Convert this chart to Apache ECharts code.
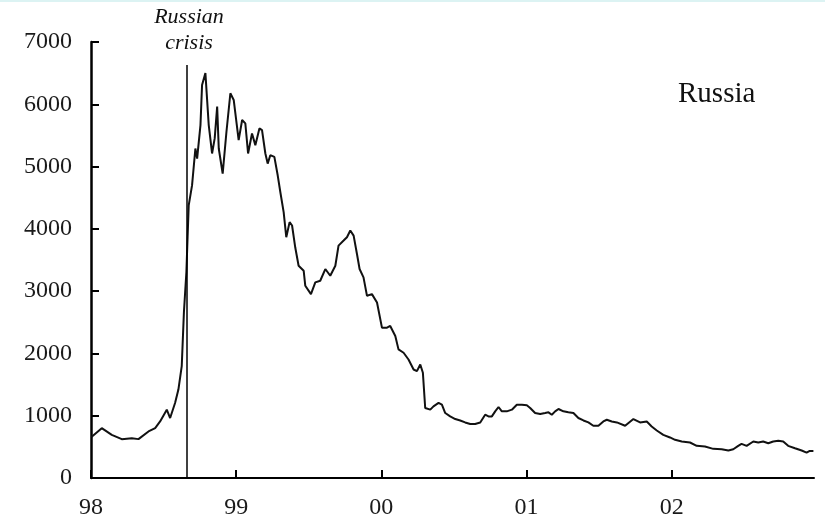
<!DOCTYPE html>
<html><head><meta charset="utf-8">
<script src="https://cdn.jsdelivr.net/npm/echarts@6/dist/echarts.min.js"></script>
<style>html,body{margin:0;padding:0;background:#fff}#c{width:825px;height:530px}</style>
</head><body><div id="c"></div>
<script>
// time in decimal years
const times = [1998.003,1998.074,1998.143,1998.212,1998.281,1998.327,1998.396,1998.442,1998.476,1998.522,1998.545,1998.579,1998.602,1998.625,1998.640,1998.657,
1998.673,1998.696,1998.719,1998.731,1998.754,1998.765,1998.788,1998.811,1998.834,1998.852,1998.869,1998.880,1998.907,1998.933,1998.960,1998.983,
1999.017,1999.041,1999.063,1999.082,1999.109,1999.132,1999.160,1999.178,1999.201,1999.217,1999.235,1999.263,1999.286,1999.304,1999.327,1999.345,
1999.368,1999.385,1999.407,1999.430,1999.465,1999.476,1999.515,1999.545,1999.579,1999.614,1999.648,1999.683,1999.705,1999.740,1999.763,1999.786,
1999.809,1999.832,1999.850,1999.877,1999.901,1999.935,1999.970,2000.004,2000.039,2000.061,2000.096,2000.118,2000.153,2000.187,2000.222,2000.245,
2000.268,2000.286,2000.302,2000.337,2000.359,2000.394,2000.417,2000.440,2000.474,2000.509,2000.543,2000.577,2000.612,2000.646,2000.681,2000.715,
2000.738,2000.761,2000.784,2000.807,2000.830,2000.864,2000.899,2000.933,2000.968,2001.002,2001.025,2001.059,2001.094,2001.128,2001.151,2001.174,
2001.197,2001.220,2001.254,2001.288,2001.323,2001.357,2001.392,2001.426,2001.460,2001.495,2001.529,2001.553,2001.587,2001.622,2001.679,2001.736,
2001.782,2001.828,2001.862,2001.897,2001.942,2001.988,2002.023,2002.069,2002.126,2002.172,2002.229,2002.286,2002.344,2002.390,2002.424,2002.458,
2002.481,2002.516,2002.562,2002.596,2002.630,2002.665,2002.699,2002.734,2002.768,2002.802,2002.849,2002.895,2002.929,2002.951,2002.976];
const values = [660,800,693,624,640,624,747,801,908,1097,963,1205,1419,1795,2661,3306,
4376,4698,5290,5129,5666,6311,6500,5666,5210,5452,5962,5290,4887,5559,6177,6069,
5424,5747,5693,5210,5532,5344,5613,5586,5210,5048,5183,5156,4860,4592,4269,3866,
4108,4054,3700,3408,3327,3086,2952,3140,3167,3355,3247,3408,3731,3812,3866,3973,
3892,3597,3355,3221,2925,2952,2817,2414,2414,2441,2280,2065,2011,1903,1742,1715,
1823,1689,1124,1097,1150,1205,1177,1043,989,947,924,892,866,866,892,1016,
989,989,1070,1140,1070,1070,1097,1177,1177,1167,1124,1043,1027,1043,1054,1016,
1070,1108,1070,1054,1043,963,924,892,839,839,908,935,908,892,839,947,
892,908,828,763,693,651,613,586,570,516,505,468,462,441,462,516,
548,516,586,570,586,559,586,597,586,516,478,441,408,435,435];
const yearTicks = [1998,1999,2000,2001,2002];
const yearLabels = ['98','99','00','01','02'];
const crisisTime = 1998.662;
const crisisTop = 6630;

const serif = '"Liberation Serif","Times New Roman",serif';
const chart = echarts.init(document.getElementById('c'));
chart.setOption({
  animation:false,
  backgroundColor:'#fff',
  grid:{left:91,right:11,top:42,bottom:52,containLabel:false},
  xAxis:{type:'value',min:1998,max:2002.98,interval:1,
    axisLine:{lineStyle:{color:'#000',width:2}},
    axisTick:{inside:true,length:8,lineStyle:{color:'#000',width:2},customValues:yearTicks},
    axisLabel:{customValues:yearTicks,formatter:v=>yearLabels[yearTicks.indexOf(Math.round(v))]||'',
      fontFamily:serif,fontSize:24,color:'#1a1a1a',margin:18},
    splitLine:{show:false}},
  yAxis:{type:'value',min:0,max:7000,interval:1000,
    axisLine:{show:true,lineStyle:{color:'#000',width:2.5}},
    axisTick:{show:true,inside:true,length:8,lineStyle:{color:'#000',width:2}},
    axisLabel:{fontFamily:serif,fontSize:24,color:'#1a1a1a',margin:19,formatter:v=>String(v)},
    splitLine:{show:false}},
  series:[{type:'line',data:times.map((t,i)=>[t,values[i]]),showSymbol:false,
    lineStyle:{color:'#111',width:2},
    markLine:{silent:true,symbol:'none',label:{show:false},
      lineStyle:{color:'#000',width:1.5,type:'solid'},
      data:[[{coord:[crisisTime,0]},{coord:[crisisTime,crisisTop]}]]}}],
  graphic:[
    {type:'rect',shape:{x:0,y:0,width:825,height:2},style:{fill:'#dcf3f3'},silent:true},
    {type:'text',left:678,top:80,style:{text:'Russia',font:'29px '+serif,fill:'#111'}},
    {type:'text',x:189,y:4,style:{text:'Russian\ncrisis',font:'italic 22px '+serif,fill:'#111',align:'center',lineHeight:26}}
  ]
});
</script></body></html>
